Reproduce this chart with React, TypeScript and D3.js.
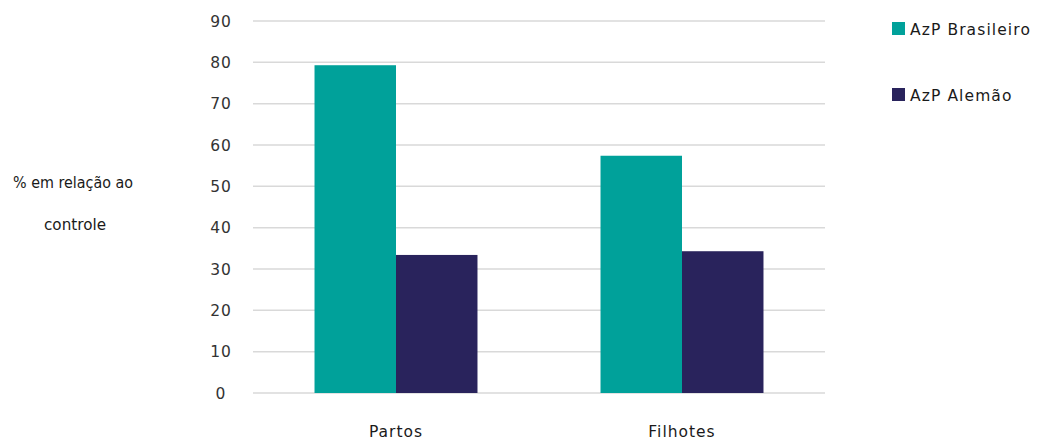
import React, { useRef, useEffect } from "react";
import * as d3 from "d3";

const categories = ["Partos", "Filhotes"];
const seriesNames = ["AzP Brasileiro", "AzP Alemão"];
const brasileiro = [79.3, 57.4];
const alemao = [33.4, 34.3];
const yTicks = [0, 10, 20, 30, 40, 50, 60, 70, 80, 90];
const colors = ["#00A19A", "#29235C"];

const App = () => {
	const chartRef = useRef<SVGSVGElement>(null);

	useEffect(() => {
		const width = 1038;
		const height = 441;
		const margin = { top: 21, right: 213, bottom: 48, left: 253 };

		d3.select(chartRef.current).selectAll("*").remove();

		const svg = d3
			.select(chartRef.current)
			.attr("width", width)
			.attr("height", height)
			.style("font-family", "'DejaVu Sans', sans-serif");

		const x = d3
			.scaleBand()
			.domain(categories)
			.range([margin.left, width - margin.right]);

		const inner = d3
			.scaleBand()
			.domain(seriesNames)
			.range([0, x.bandwidth()])
			.paddingInner(0)
			.paddingOuter(0.755);

		const y = d3
			.scaleLinear()
			.domain([0, 90])
			.range([height - margin.bottom, margin.top]);

		// grid
		svg
			.append("g")
			.selectAll("line")
			.data(yTicks)
			.enter()
			.append("line")
			.attr("x1", margin.left)
			.attr("x2", width - margin.right)
			.attr("y1", d => y(d))
			.attr("y2", d => y(d))
			.attr("stroke", "#d9d9d9")
			.attr("stroke-width", 1.5);

		// tick labels
		svg
			.append("g")
			.selectAll("text")
			.data(yTicks)
			.enter()
			.append("text")
			.attr("x", 221)
			.attr("y", d => y(d) + 5.5)
			.attr("text-anchor", "middle")
			.attr("font-size", 15.5)
			.attr("letter-spacing", 1)
			.attr("fill", "#333333")
			.text(d => d);

		// bars
		const data = categories.map((c, i) => ({ category: c, values: [brasileiro[i], alemao[i]] }));
		const groups = svg
			.append("g")
			.selectAll("g")
			.data(data)
			.enter()
			.append("g")
			.attr("transform", d => `translate(${x(d.category)},0)`);

		groups
			.selectAll("rect")
			.data(d => d.values.map((v, i) => ({ name: seriesNames[i], value: v, i })))
			.enter()
			.append("rect")
			.attr("x", d => inner(d.name) as number)
			.attr("width", inner.bandwidth())
			.attr("y", d => y(d.value))
			.attr("height", d => y(0) - y(d.value))
			.attr("fill", d => colors[d.i]);

		// x labels
		svg
			.append("g")
			.selectAll("text")
			.data(categories)
			.enter()
			.append("text")
			.attr("x", d => (x(d) as number) + x.bandwidth() / 2)
			.attr("y", 437)
			.attr("text-anchor", "middle")
			.attr("font-size", 15.5)
			.attr("letter-spacing", 1)
			.attr("fill", "#1a1a1a")
			.text(d => d);

		// y label
		svg
			.append("text")
			.attr("x", 73)
			.attr("y", 188)
			.attr("text-anchor", "middle")
			.attr("font-size", 15)
			.attr("textLength", 120)
			.attr("lengthAdjust", "spacingAndGlyphs")
			.attr("fill", "#1a1a1a")
			.text("% em relação ao");

		svg
			.append("text")
			.attr("x", 75)
			.attr("y", 230)
			.attr("text-anchor", "middle")
			.attr("font-size", 15)
			.attr("textLength", 62)
			.attr("lengthAdjust", "spacingAndGlyphs")
			.attr("fill", "#1a1a1a")
			.text("controle");

		// legend
		const legend = svg
			.append("g")
			.selectAll("g")
			.data(seriesNames)
			.enter()
			.append("g")
			.attr("transform", (d, i) => `translate(892,${22 + i * 66})`);

		legend
			.append("rect")
			.attr("width", 13)
			.attr("height", 13)
			.attr("fill", (d, i) => colors[i]);

		legend
			.append("text")
			.attr("x", 18)
			.attr("y", 13)
			.attr("font-size", 15.5)
			.attr("letter-spacing", 1.1)
			.attr("fill", "#1a1a1a")
			.text(d => d);
	}, []);

	return (
		<div style={{ position: "absolute", left: 0, top: 0 }}>
			<svg ref={chartRef}></svg>
		</div>
	);
};

export default App;
